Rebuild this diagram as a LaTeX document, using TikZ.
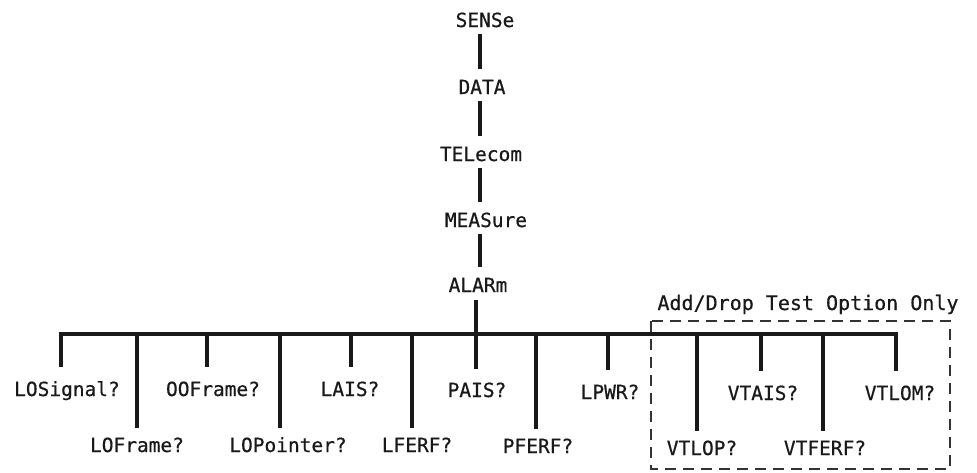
\documentclass[tikz,border=0pt]{standalone}
\usepackage{fontspec}
\newfontfamily\lblfont[AutoFakeBold=0.6]{DejaVu Sans Mono}
\begin{document}
\begin{tikzpicture}[x=1pt,y=-1pt,
  lbl/.style={font=\lblfont\bfseries\fontsize{19.5}{22}\selectfont, text=black!90, inner sep=0pt, text height=14pt, text depth=4pt, anchor=base},
  ttl/.style={font=\lblfont\bfseries\fontsize{20}{22}\selectfont, text=black!90, inner sep=0pt, text height=14pt, text depth=4pt, anchor=base},
  wire/.style={line width=3.4pt, black!90},
  chainline/.style={wire, shorten <=3pt, shorten >=11pt},
  topbr/.style={wire, shorten >=15pt},
  botbr/.style={wire, shorten >=10pt},
  optbox/.style={line width=1.4pt, black!80, dash pattern=on 11pt off 7pt}
]
\useasboundingbox (0,0) rectangle (977,472);
% chain
\node[lbl] (sense) at (485,27) {SENSe};
\node[lbl] (data) at (482,94) {DATA};
\node[lbl] (tele) at (481,161) {TELecom};
\node[lbl] (meas) at (486,227) {MEASure};
\node[lbl] (alarm) at (478,292) {ALARm};
\coordinate (spine) at (480,0);
\draw[chainline] (spine |- sense.south) -- (spine |- data.north);
\draw[chainline] (spine |- data.south) -- (spine |- tele.north);
\draw[chainline] (spine |- tele.south) -- (spine |- meas.north);
\draw[chainline] (spine |- meas.south) -- (spine |- alarm.north);
% labels
\node[lbl] (los) at (67,396) {LOSignal?};
\node[lbl] (lof) at (137,452) {LOFrame?};
\node[lbl] (oof) at (213,396) {OOFrame?};
\node[lbl] (lop) at (288,452) {LOPointer?};
\node[lbl] (lais) at (350,396) {LAIS?};
\node[lbl] (lferf) at (417,452) {LFERF?};
\node[lbl] (pais) at (477,397) {PAIS?};
\node[lbl] (pferf) at (538,453) {PFERF?};
\node[lbl] (lpwr) at (610,399) {LPWR?};
\node[lbl] (vtlop) at (702,455) {VTLOP?};
\node[lbl] (vtais) at (763,400) {VTAIS?};
\node[lbl] (vtferf) at (825,455) {VTFERF?};
\node[lbl] (vtlom) at (900,400) {VTLOM?};
% bus coordinates
\coordinate (b1) at (61,334);
\coordinate (b2) at (137,334);
\coordinate (b3) at (207,334);
\coordinate (b4) at (280,334);
\coordinate (b5) at (351,334);
\coordinate (b6) at (412,334);
\coordinate (b7) at (476,334);
\coordinate (b8) at (536,334);
\coordinate (b9) at (608,334);
\coordinate (b10) at (697,334);
\coordinate (b11) at (761,334);
\coordinate (b12) at (823,334);
\coordinate (b13) at (896,334);
% bus with end branches
\draw[wire, line join=miter, shorten <=15pt, shorten >=15pt] (b1 |- los.north) -- (b1) -- (b13) -- (b13 |- vtlom.north);
% trunk from ALARm through bus to PAIS?
\draw[wire, shorten <=4pt, shorten >=14pt] (b7 |- alarm.south) -- (b7 |- pais.north);
% branches
\draw[botbr] (b2) -- (b2 |- lof.north);
\draw[topbr] (b3) -- (b3 |- oof.north);
\draw[botbr] (b4) -- (b4 |- lop.north);
\draw[topbr] (b5) -- (b5 |- lais.north);
\draw[botbr] (b6) -- (b6 |- lferf.north);
\draw[botbr] (b8) -- (b8 |- pferf.north);
\draw[topbr] (b9) -- (b9 |- lpwr.north);
\draw[botbr] (b10) -- (b10 |- vtlop.north);
\draw[topbr] (b11) -- (b11 |- vtais.north);
\draw[botbr] (b12) -- (b12 |- vtferf.north);
% option box
\draw[optbox] (651,321) rectangle (950,469);
\node[ttl] (opt) at (808,310) {Add/Drop Test Option Only};
\end{tikzpicture}
\end{document}
